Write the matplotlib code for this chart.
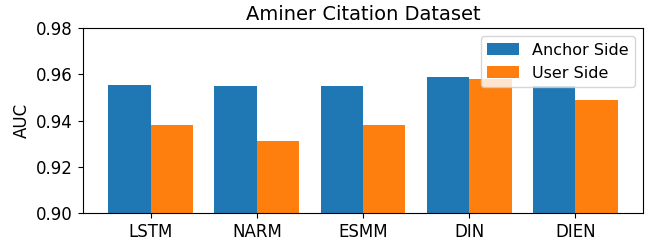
import matplotlib
matplotlib.use("Agg")
import matplotlib.pyplot as plt
import numpy as np

models = ["LSTM", "NARM", "ESMM", "DIN", "DIEN"]
anchor_side = [0.9555, 0.955, 0.955, 0.959, 0.955]
user_side = [0.938, 0.931, 0.938, 0.958, 0.949]

x = np.arange(len(models))
width = 0.4

fig, ax = plt.subplots(figsize=(6.47, 2.46), dpi=100)
ax.bar(x - width / 2, anchor_side, width, label="Anchor Side", color="#1f77b4")
ax.bar(x + width / 2, user_side, width, label="User Side", color="#ff7f0e")

ax.set_ylim(0.90, 0.98)
ax.set_yticks([0.90, 0.92, 0.94, 0.96, 0.98])
ax.set_xticks(x)
ax.set_xticklabels(models)
ax.set_ylabel("AUC", fontsize=12)
ax.set_title("Aminer Citation Dataset", fontsize=14)
ax.tick_params(labelsize=12)
ax.legend(loc="upper right", fontsize=11.5)

fig.subplots_adjust(left=0.128, right=0.994, top=0.885, bottom=0.135)
fig.savefig("out.png", dpi=100)
